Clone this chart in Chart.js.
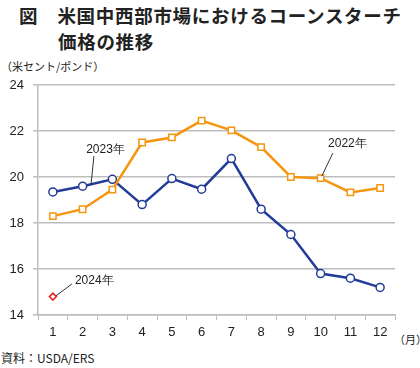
<!DOCTYPE html>
<html>
<head>
<meta charset="utf-8">
<script src="https://cdn.jsdelivr.net/npm/chart.js@4"></script>
<style>
  body { margin: 0; background: #fff; }
  #wrap { position: relative; width: 420px; height: 368px; font-family: "Noto Sans CJK JP", sans-serif; color: #222; }
  .t { position: absolute; white-space: nowrap; }
  #title1 { left: 19px; top: 2px; font-size: 18.5px; font-weight: bold; letter-spacing: 0.7px; }
  #title2 { left: 58px; top: 28px; font-size: 18.5px; font-weight: bold; letter-spacing: 0.7px; }
  #unit { left: 1px; top: 58px; font-size: 11px; }
  #month { left: 394px; top: 331px; font-size: 11px; }
  #src { left: 1px; top: 349px; font-size: 12px; }
  canvas { position: absolute; left: 0; top: 0; }
</style>
</head>
<body>
<div id="wrap">
  <div class="t" id="title1">図　米国中西部市場におけるコーンスターチ</div>
  <div class="t" id="title2">価格の推移</div>
  <div class="t" id="unit">（米セント/ポンド）</div>
  <div class="t" id="month">（月）</div>
  <div class="t" id="src">資料：USDA/ERS</div>
  <canvas id="chart" width="420" height="368"></canvas>
</div>
<script>
let months = ["1", "2", "3", "4", "5", "6", "7", "8", "9", "10", "11", "12"];
let y2022 = [18.3, 18.6, 19.45, 21.5, 21.72, 22.45, 22.03, 21.3, 20.0, 19.95, 19.33, 19.52];
let y2023 = [19.35, 19.6, 19.9, 18.8, 19.93, 19.47, 20.8, 18.6, 17.5, 15.8, 15.6, 15.2];
let y2024 = [14.8, null, null, null, null, null, null, null, null, null, null, null];

// series labels: [text, text left (month index), text value, leader start idx, start value, leader end idx, end value]
let notes = [
    ["2023年", 1.12, 21.17, 1.38, 20.91, 1.28, 19.65],
    ["2022年", 9.25, 21.43, 9.41, 21.04, 9.04, 20.04],
    ["2024年", 0.74, 15.48, 0.64, 15.35, 0.1, 14.83]
];

let gray = "#bdbdbd";

const notePlugin = {
    id: "notes",
    afterDatasetsDraw(chart) {
        const ctx = chart.ctx;
        const xs = chart.scales.x;
        const ys = chart.scales.y;
        const step = xs.getPixelForValue(1) - xs.getPixelForValue(0);
        const px = v => xs.getPixelForValue(0) + v * step;
        ctx.save();
        ctx.font = "12px 'Liberation Sans', Arial, sans-serif";
        ctx.fillStyle = "#222";
        ctx.strokeStyle = "#333";
        ctx.lineWidth = 1;
        ctx.textBaseline = "middle";
        notes.forEach(n => {
            ctx.fillText(n[0], px(n[1]), ys.getPixelForValue(n[2]));
            ctx.beginPath();
            ctx.moveTo(px(n[3]), ys.getPixelForValue(n[4]));
            ctx.lineTo(px(n[5]), ys.getPixelForValue(n[6]));
            ctx.stroke();
        });
        ctx.restore();
    }
};

new Chart(document.getElementById("chart"), {
    type: "line",
    data: {
        labels: months,
        datasets: [{
            label: "2022年",
            data: y2022,
            borderColor: "#f5960f",
            borderWidth: 2.5,
            pointStyle: "rect",
            pointRadius: 4.5,
            pointBorderWidth: 1.5,
            pointBackgroundColor: "#fff",
            pointBorderColor: "#f5960f"
        }, {
            label: "2023年",
            data: y2023,
            borderColor: "#233c98",
            borderWidth: 2.5,
            pointStyle: "circle",
            pointRadius: 4,
            pointBorderWidth: 1.5,
            pointBackgroundColor: "#fff",
            pointBorderColor: "#233c98"
        }, {
            label: "2024年",
            data: y2024,
            borderColor: "#e8211e",
            pointStyle: "rectRot",
            pointRadius: 3.5,
            pointBorderWidth: 1.5,
            pointBackgroundColor: "#fff",
            pointBorderColor: "#e8211e"
        }]
    },
    options: {
        responsive: false,
        animation: false,
        layout: { padding: { top: 85, right: 25, bottom: 23, left: 0 } },
        plugins: { legend: { display: false }, tooltip: { enabled: false } },
        scales: {
            x: {
                offset: true,
                grid: { offset: true, drawOnChartArea: false, color: gray, tickLength: 5 },
                border: { color: gray, width: 1.5 },
                ticks: { color: "#222", font: { size: 13, family: "'Liberation Sans', Arial" }, padding: 5 },
                afterFit: s => { s.height = 30; }
            },
            y: {
                min: 14,
                max: 24,
                ticks: { stepSize: 2, color: "#222", font: { size: 13, family: "'Liberation Sans', Arial" }, padding: 9 },
                grid: { color: gray, lineWidth: 1.5, tickLength: 5 },
                border: { color: gray, width: 1.5 },
                afterFit: s => { s.width = 38; }
            }
        }
    },
    plugins: [notePlugin]
});
</script>
</body>
</html>
